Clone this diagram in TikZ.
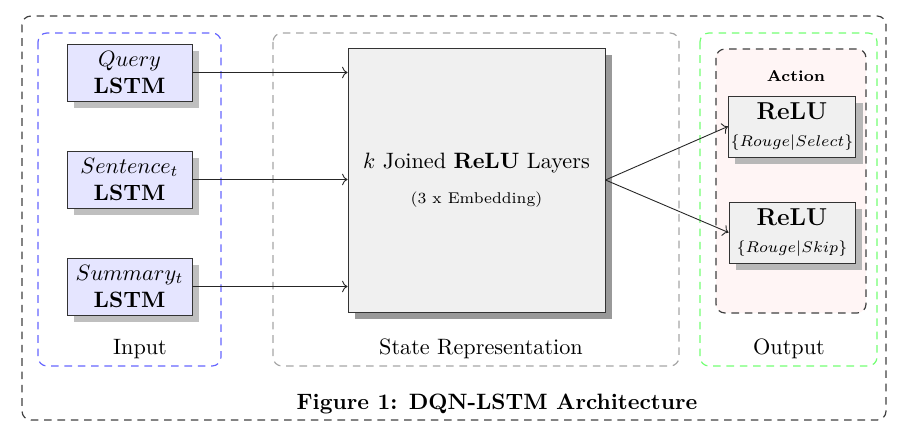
\documentclass[tikz,border=0pt]{standalone}
\usetikzlibrary{shadows,arrows.meta}
\newdimen\pxu \pxu=0.45pt
\begin{document}
\begin{tikzpicture}[x=0.45pt,y=-0.45pt,
  grp/.style={dash pattern=on 3.4pt off 2.6pt, rounded corners=4pt, line width=0.55pt},
  shd/.style={drop shadow={shadow xshift=3.15pt, shadow yshift=-3.15pt, fill=#1, opacity=1}},
  lstm/.style={draw=black!80, fill=blue!10, shd=black!25, align=center, inner sep=1pt,
    minimum width=125*\pxu, minimum height=57*\pxu},
  relu/.style={draw=black!80, fill=black!6, shd=black!28, align=center, inner sep=1pt,
    minimum width=126*\pxu, minimum height=61*\pxu},
  big/.style={draw=black!80, fill=black!6, shd=black!40, align=center,
    minimum width=257*\pxu, minimum height=264*\pxu},
  lbl/.style={font=\normalsize},
  conn/.style={->, black!85}
]
\useasboundingbox (0,0) rectangle (902,439);
\draw[grp, black!75] (22,16) rectangle (886,420);
\draw[grp, blue!60] (38,33) rectangle (221,366);
\draw[grp, black!35] (273,33) rectangle (679,366);
\draw[grp, green!55] (700,33) rectangle (877,366);
\draw[grp, black!75, fill=red!4] (716,49) rectangle (866,313);

\node[lstm] (q) at (129.5,72.5) {$Query$\\\textbf{LSTM}};
\node[lstm] (s) at (129.5,179.5) {$Sentence_t$\\\textbf{LSTM}};
\node[lstm] (m) at (129.5,286.5) {$Summary_t$\\\textbf{LSTM}};

\node[big] (b) at (476.5,180) {$k$ Joined \textbf{ReLU} Layers\\[4pt]{\scriptsize (3 x Embedding)}};

\node[font=\scriptsize\bfseries] (act) at (796,76) {Action};
\node[relu] (r1) at (792,126.5) {{\fontsize{11}{13}\selectfont\textbf{ReLU}}\\[0pt]{\scriptsize$\{Rouge|Select\}$}};
\node[relu] (r2) at (792,232.5) {{\fontsize{11}{13}\selectfont\textbf{ReLU}}\\[0pt]{\scriptsize$\{Rouge|Skip\}$}};

\draw[conn] (q.east) -- (q.east -| b.west);
\draw[conn] (s.east) -- (s.east -| b.west);
\draw[conn] (m.east) -- (m.east -| b.west);
\draw[conn] (b.east) -- (r1.west);
\draw[conn] (b.east) -- (r2.west);

\node[lbl] (lin) at (140,349) {Input};
\node[lbl] (lst) at (481,349) {State Representation};
\node[lbl] (lout) at (789,349) {Output};
\node[font=\bfseries] (title) at (497,404) {Figure 1: DQN-LSTM Architecture};
\end{tikzpicture}
\end{document}
